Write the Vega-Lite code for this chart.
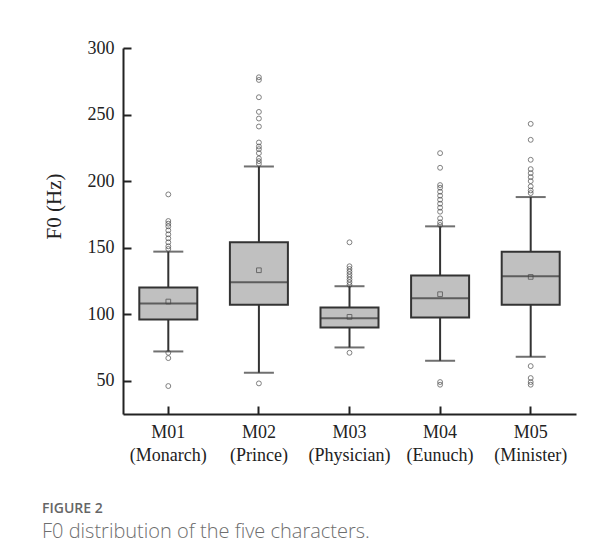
{
  "$schema": "https://vega.github.io/schema/vega-lite/v6.json",
  "width": 453,
  "height": 366,
  "autosize": {"type": "none"},
  "padding": {"left": 123, "top": 48, "right": 38, "bottom": 146},
  "background": "white",
  "title": {
    "text": "FIGURE 2",
    "subtitle": "F0 distribution of the five characters.",
    "orient": "bottom",
    "anchor": "start",
    "frame": "group",
    "dx": -81,
    "offset": 38,
    "font": "Open Sans",
    "fontSize": 14,
    "fontWeight": 600,
    "color": "#666666",
    "subtitleFont": "Open Sans",
    "subtitleFontSize": 20,
    "subtitleFontWeight": 300,
    "subtitleColor": "#6e6e6e",
    "subtitlePadding": 6
  },
  "datasets": {
    "stats": [
      {"group": "M01|(Monarch)", "lower": 72, "q1": 96, "median": 108, "mean": 109.5, "q3": 120, "upper": 147},
      {"group": "M02|(Prince)", "lower": 56, "q1": 107, "median": 124, "mean": 133, "q3": 154, "upper": 211},
      {"group": "M03|(Physician)", "lower": 75, "q1": 90, "median": 97, "mean": 98, "q3": 105, "upper": 121},
      {"group": "M04|(Eunuch)", "lower": 65, "q1": 97.5, "median": 112, "mean": 115, "q3": 129, "upper": 166},
      {"group": "M05|(Minister)", "lower": 68, "q1": 107, "median": 128.5, "mean": 128, "q3": 147, "upper": 188}
    ],
    "outliers": [
      {"group": "M01|(Monarch)", "f0": 190}, {"group": "M01|(Monarch)", "f0": 170}, {"group": "M01|(Monarch)", "f0": 168},
      {"group": "M01|(Monarch)", "f0": 166}, {"group": "M01|(Monarch)", "f0": 163}, {"group": "M01|(Monarch)", "f0": 160},
      {"group": "M01|(Monarch)", "f0": 157}, {"group": "M01|(Monarch)", "f0": 154}, {"group": "M01|(Monarch)", "f0": 151},
      {"group": "M01|(Monarch)", "f0": 149}, {"group": "M01|(Monarch)", "f0": 71}, {"group": "M01|(Monarch)", "f0": 67},
      {"group": "M01|(Monarch)", "f0": 46},
      {"group": "M02|(Prince)", "f0": 278}, {"group": "M02|(Prince)", "f0": 276}, {"group": "M02|(Prince)", "f0": 263},
      {"group": "M02|(Prince)", "f0": 252}, {"group": "M02|(Prince)", "f0": 247}, {"group": "M02|(Prince)", "f0": 241},
      {"group": "M02|(Prince)", "f0": 229}, {"group": "M02|(Prince)", "f0": 226}, {"group": "M02|(Prince)", "f0": 224},
      {"group": "M02|(Prince)", "f0": 221}, {"group": "M02|(Prince)", "f0": 217}, {"group": "M02|(Prince)", "f0": 215},
      {"group": "M02|(Prince)", "f0": 213}, {"group": "M02|(Prince)", "f0": 48},
      {"group": "M03|(Physician)", "f0": 154}, {"group": "M03|(Physician)", "f0": 136}, {"group": "M03|(Physician)", "f0": 134},
      {"group": "M03|(Physician)", "f0": 132}, {"group": "M03|(Physician)", "f0": 130}, {"group": "M03|(Physician)", "f0": 128},
      {"group": "M03|(Physician)", "f0": 126}, {"group": "M03|(Physician)", "f0": 124}, {"group": "M03|(Physician)", "f0": 122},
      {"group": "M03|(Physician)", "f0": 71},
      {"group": "M04|(Eunuch)", "f0": 221}, {"group": "M04|(Eunuch)", "f0": 210}, {"group": "M04|(Eunuch)", "f0": 197},
      {"group": "M04|(Eunuch)", "f0": 195}, {"group": "M04|(Eunuch)", "f0": 192}, {"group": "M04|(Eunuch)", "f0": 189},
      {"group": "M04|(Eunuch)", "f0": 186}, {"group": "M04|(Eunuch)", "f0": 183}, {"group": "M04|(Eunuch)", "f0": 180},
      {"group": "M04|(Eunuch)", "f0": 177}, {"group": "M04|(Eunuch)", "f0": 172}, {"group": "M04|(Eunuch)", "f0": 169},
      {"group": "M04|(Eunuch)", "f0": 167}, {"group": "M04|(Eunuch)", "f0": 49}, {"group": "M04|(Eunuch)", "f0": 47},
      {"group": "M05|(Minister)", "f0": 243}, {"group": "M05|(Minister)", "f0": 231}, {"group": "M05|(Minister)", "f0": 216},
      {"group": "M05|(Minister)", "f0": 209}, {"group": "M05|(Minister)", "f0": 206}, {"group": "M05|(Minister)", "f0": 203},
      {"group": "M05|(Minister)", "f0": 200}, {"group": "M05|(Minister)", "f0": 196}, {"group": "M05|(Minister)", "f0": 193},
      {"group": "M05|(Minister)", "f0": 191}, {"group": "M05|(Minister)", "f0": 61}, {"group": "M05|(Minister)", "f0": 52},
      {"group": "M05|(Minister)", "f0": 49}, {"group": "M05|(Minister)", "f0": 47}
    ]
  },
  "encoding": {
    "x": {
      "field": "group",
      "type": "nominal",
      "sort": null,
      "scale": {"paddingInner": 0, "paddingOuter": 0},
      "axis": {
        "title": null,
        "labelAngle": 0,
        "labelExpr": "split(datum.value, '|')",
        "labelFont": "Liberation Serif",
        "labelFontSize": 18,
        "labelColor": "#222222",
        "labelLineHeight": 23,
        "labelPadding": 17,
        "tickSize": -8,
        "tickWidth": 2,
        "tickColor": "#222222",
        "domainColor": "#222222",
        "domainWidth": 2
      }
    }
  },
  "layer": [
    {
      "data": {"name": "stats"},
      "mark": {"type": "rule", "color": "#333333", "strokeWidth": 2},
      "encoding": {
        "y": {
          "field": "lower",
          "type": "quantitative",
          "scale": {"domain": [25, 300], "nice": false, "zero": false},
          "axis": {
            "title": "F0 (Hz)",
            "titleFont": "Liberation Serif",
            "titleFontSize": 21,
            "titleFontWeight": "normal",
            "titleColor": "#222222",
            "titleX": -59,
            "titleY": 158,
            "values": [50, 75, 100, 125, 150, 175, 200, 225, 250, 275, 300],
            "labelExpr": "datum.value % 50 == 0 ? datum.label : ''",
            "labelFont": "Liberation Serif",
            "labelFontSize": 18,
            "labelColor": "#222222",
            "labelPadding": 17,
            "tickSize": {"condition": {"test": "datum.value % 50 == 0", "value": -8}, "value": -4},
            "tickWidth": 2,
            "tickColor": "#222222",
            "domainColor": "#222222",
            "domainWidth": 2,
            "grid": false
          }
        },
        "y2": {"field": "upper"}
      }
    },
    {
      "data": {"name": "stats"},
      "mark": {"type": "bar", "width": 58, "fill": "#c0c0c0", "stroke": "#333333", "strokeWidth": 2},
      "encoding": {
        "y": {"field": "q1", "type": "quantitative"},
        "y2": {"field": "q3"}
      }
    },
    {
      "data": {"name": "stats"},
      "mark": {"type": "tick", "size": 58, "thickness": 2, "color": "#333333"},
      "encoding": {"y": {"field": "median", "type": "quantitative"}}
    },
    {
      "data": {"name": "stats"},
      "mark": {"type": "tick", "size": 30, "thickness": 2, "color": "#333333"},
      "encoding": {"y": {"field": "upper", "type": "quantitative"}}
    },
    {
      "data": {"name": "stats"},
      "mark": {"type": "tick", "size": 30, "thickness": 2, "color": "#333333"},
      "encoding": {"y": {"field": "lower", "type": "quantitative"}}
    },
    {
      "data": {"name": "stats"},
      "mark": {"type": "point", "shape": "square", "size": 22, "filled": false, "stroke": "#444444", "strokeWidth": 1},
      "encoding": {"y": {"field": "mean", "type": "quantitative"}}
    },
    {
      "data": {"name": "outliers"},
      "mark": {"type": "point", "shape": "circle", "size": 24, "filled": false, "stroke": "#4a4a4a", "strokeWidth": 1},
      "encoding": {"y": {"field": "f0", "type": "quantitative"}}
    }
  ],
  "config": {
    "view": {"stroke": null},
    "axis": {"grid": false}
  }
}
